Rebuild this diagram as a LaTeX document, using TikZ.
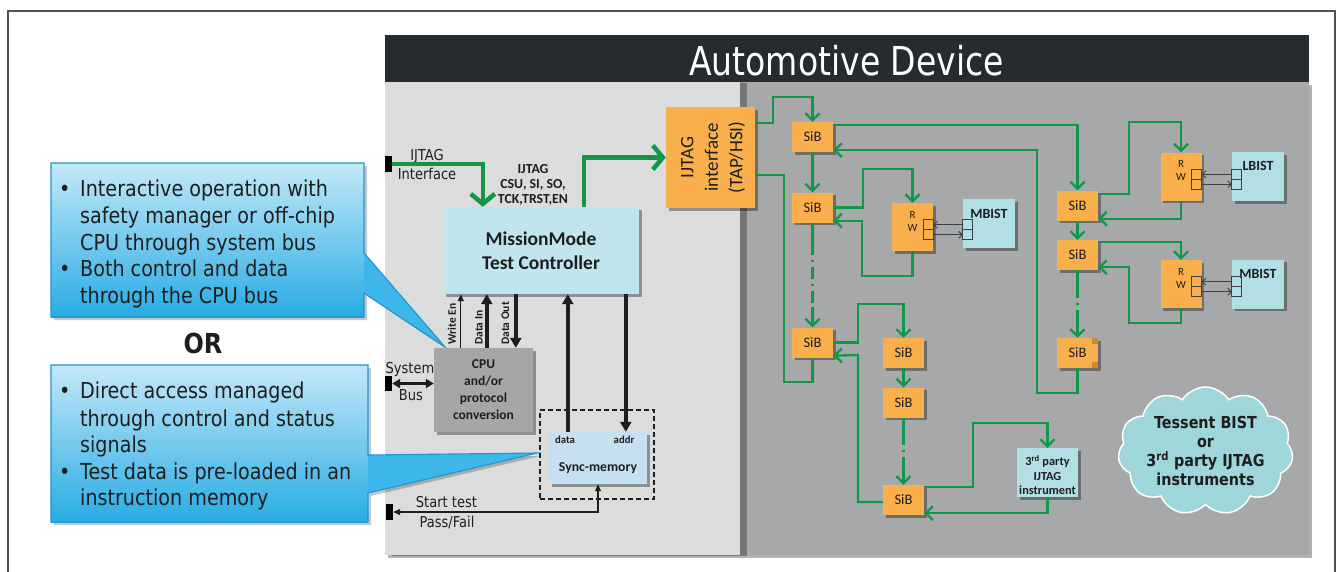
\documentclass[tikz,border=0pt]{standalone}
\usepackage{fontspec}
\setmainfont{Carlito}
\newfontfamily\vfont[FakeStretch=0.87]{DejaVu Sans}
\newfontfamily\hfont[FakeStretch=0.83]{DejaVu Sans}
\usetikzlibrary{arrows.meta,shadows,shapes.symbols,calc}

\definecolor{gline}{RGB}{20,150,72}
\definecolor{orng}{RGB}{248,175,76}
\definecolor{panelL}{RGB}{219,221,221}
\definecolor{panelD}{RGB}{166,168,170}
\definecolor{hdr}{RGB}{40,43,45}
\definecolor{mmfill}{RGB}{193,229,236}
\definecolor{instfill}{RGB}{178,223,227}
\definecolor{cpufill}{RGB}{166,166,166}
\definecolor{syncfill}{RGB}{198,224,242}
\definecolor{calltop}{RGB}{196,232,248}
\definecolor{callbot}{RGB}{40,172,228}
\definecolor{callptr}{RGB}{62,182,234}
\definecolor{callrim}{RGB}{28,150,210}
\definecolor{cloudfill}{RGB}{158,214,218}
\definecolor{txt}{RGB}{30,30,30}
\definecolor{cornr}{RGB}{200,140,45}
\definecolor{framec}{RGB}{80,80,80}
\definecolor{sqc}{RGB}{60,64,66}

\tikzset{
  shadowed/.style={drop shadow={shadow xshift=2.5pt,shadow yshift=-2.5pt,opacity=0.35,fill=black}},
  sibbox/.style={fill=orng, minimum width=41, minimum height=30, inner sep=0,
    font=\fontsize{14.5}{16}\selectfont, text=txt, shadowed},
  rwbox/.style={fill=orng, minimum width=41, minimum height=48, inner sep=0, shadowed},
  instbox/.style={fill=instfill, minimum width=52, minimum height=49, inner sep=0, shadowed},
  portbox/.style={fill=black, minimum width=7, minimum height=16, inner sep=0},
  glink/.style={draw=gline, line width=2.3},
  garrow/.style={glink, -{Straight Barb[length=7,width=14]}},
  gthick/.style={draw=gline, line width=4.5, -{Straight Barb[length=10,width=24]}},
  gdashdot/.style={dash pattern=on 12pt off 5pt on 2pt off 5pt},
  barrow/.style={draw=txt, line width=4, -{Triangle[length=10,width=11]}},
  thinarrow/.style={draw=txt, line width=1.3, -{Triangle[length=7,width=6]}},
  busarrow/.style={draw=txt, line width=2.6, {Triangle[length=8,width=9]}-{Triangle[length=8,width=9]}},
  startarrow/.style={draw=txt, line width=1.3, {Triangle[length=7,width=6]}-{Triangle[length=7,width=6]}},
  sqline/.style={draw=sqc, line width=0.9},
  warrow/.style={draw=sqc, line width=0.9, -{Straight Barb[length=3.5,width=7]}},
  ctext/.style={anchor=base west, inner sep=0, font=\vfont\fontsize{22}{26}\selectfont, text=txt},
  lbl/.style={inner sep=0, font=\vfont\fontsize{15}{18}\selectfont, text=txt},
  smallbold/.style={inner sep=0, text=txt},
}

\begin{document}
\begin{tikzpicture}[x=1pt,y=-1pt]
\useasboundingbox (0,0) rectangle (1340,571);
\fill[white] (0,0) rectangle (1340,571);

% outer frame
\draw[framec, line width=1.4] (8,575) -- (8,11) -- (1335,11) -- (1335,575);

% device panels
\node[fill=panelD, minimum width=924, minimum height=473, inner sep=0, anchor=north west,
  drop shadow={shadow xshift=3pt,shadow yshift=-3pt,opacity=0.3,fill=black}] (darkpanel) at (385,82) {};
\node[fill=panelL, minimum width=355, minimum height=473, inner sep=0, anchor=north west,
  drop shadow={shadow xshift=7pt,shadow yshift=-1pt,opacity=0.3,fill=black}] (lightpanel) at (385,82) {};
\node[fill=hdr, minimum width=924, minimum height=47, inner sep=0, anchor=north west] (header) at (385,35) {};
\node[text=white, inner sep=0, anchor=base, font=\hfont\fontsize{39.8}{40}\selectfont] (title) at (846.5,75) {Automotive Device};

% callout bubbles
\fill[black, opacity=0.22] (54,166) -- (367,166) -- (367,256) -- (448,350) -- (367,296) -- (367,320) -- (54,320) -- cycle;
\fill[callptr] (364,253) -- (445,347) -- (364,293) -- cycle;
\shade[top color=calltop, bottom color=callbot] (51,163) rectangle (364,317);
\draw[callrim, line width=1.1] (51,163) -- (364,163) -- (364,253) -- (445,347) -- (364,293) -- (364,317) -- (51,317) -- cycle;

\fill[black, opacity=0.22] (54,368) -- (371,368) -- (371,458) -- (540,456) -- (371,496) -- (371,525) -- (54,525) -- cycle;
\fill[callptr] (368,455) -- (537,453) -- (368,493) -- cycle;
\shade[top color=calltop, bottom color=callbot] (51,365) rectangle (368,522);
\draw[callrim, line width=1.1] (51,365) -- (368,365) -- (368,455) -- (537,453) -- (368,493) -- (368,522) -- (51,522) -- cycle;

\node[ctext] (b1) at (59,196) {•};
\node[ctext] (t1a) at (80,196) {Interactive operation with};
\node[ctext] (t1b) at (80,223) {safety manager or off-chip};
\node[ctext] (t1c) at (80,250) {CPU through system bus};
\node[ctext] (b2) at (59,276) {•};
\node[ctext] (t2a) at (80,276) {Both control and data};
\node[ctext] (t2b) at (80,303) {through the CPU bus};

\node[inner sep=0, anchor=base, text=txt, font=\vfont\bfseries\fontsize{27.5}{30}\selectfont] (or) at (203,353) {OR};

\node[ctext] (b3) at (59,398) {•};
\node[ctext] (t3a) at (80,398) {Direct access managed};
\node[ctext] (t3b) at (80,426) {through control and status};
\node[ctext] (t3c) at (80,452) {signals};
\node[ctext] (b4) at (59,479) {•};
\node[ctext] (t4a) at (80,479) {Test data is pre-loaded in an};
\node[ctext] (t4b) at (80,505) {instruction memory};

% left-hand blocks
\node[fill=mmfill, minimum width=196, minimum height=87, inner sep=0, shadowed, align=center,
  text=txt, font=\bfseries\fontsize{19.5}{23.5}\selectfont] (mm) at (541,250.5) {MissionMode\\Test Controller};
\node[fill=cpufill, minimum width=99, minimum height=84, inner sep=0, shadowed, align=center,
  text=txt, font=\bfseries\fontsize{13.5}{17}\selectfont] (cpu) at (483.5,390) {CPU\\and/or\\protocol\\conversion};
\node[draw=txt, dash pattern=on 5pt off 3pt, line width=1.3, minimum width=114, minimum height=89, inner sep=0] (memgroup) at (597,454.5) {};
\node[fill=syncfill, minimum width=98, minimum height=52, inner sep=0, shadowed] (sync) at (598,458) {};
\node[smallbold, anchor=base, font=\bfseries\fontsize{10.7}{12}\selectfont] (syncdata) at (565,443.5) {data};
\node[smallbold, anchor=base, font=\bfseries\fontsize{10.7}{12}\selectfont] (syncaddr) at (624,443.5) {addr};
\node[smallbold, anchor=base, font=\bfseries\fontsize{13.7}{15}\selectfont] (syncname) at (598,471.5) {Sync-memory};

\node[fill=orng, minimum width=89, minimum height=101, inner sep=0, shadowed] (jtag) at (710.5,157.5) {};
\node[rotate=90, align=center, inner sep=0, text=txt, font=\fontsize{19}{24.5}\selectfont] (jtagtxt) at (713,157.5) {IJTAG\\interface\\(TAP/HSI)};

% ports and their labels
\node[portbox] (p1) at (388,164) {};
\node[portbox, minimum height=15] (p2) at (388.5,383.5) {};
\node[portbox] (p3) at (389.5,512) {};
\node[lbl, anchor=base] (l1a) at (427,160) {IJTAG};
\node[lbl, anchor=base] (l1b) at (427,179.5) {Interface};
\node[lbl, anchor=base] (l2a) at (410,373) {System};
\node[lbl, anchor=base] (l2b) at (411,400) {Bus};
\node[lbl, anchor=base] (l3a) at (446.5,507) {Start test};
\node[lbl, anchor=base] (l3b) at (447,527) {Pass/Fail};

\node[smallbold, align=center, font=\bfseries\fontsize{13.8}{14.6}\selectfont] (sigs) at (533,185) {IJTAG\\CSU, SI, SO,\\TCK,TRST,EN};

% green IJTAG routing in the controller area
\draw[gthick] (p1.east) -| ($(mm.north west)+(40,0)$);
\draw[gthick] ($(mm.north west)+(141,0)$) |- (jtag.west);

% CPU / controller / memory signals
\coordinate (we) at ($(cpu.north west)+(27,0)$);
\coordinate (di) at ($(cpu.north west)+(53,0)$);
\coordinate (do) at ($(cpu.north west)+(82,0)$);
\coordinate (sd) at ($(sync.north west)+(19,0)$);
\coordinate (sa) at ($(sync.north west)+(77,0)$);
\draw[thinarrow] (we) -- (we |- mm.south);
\draw[barrow] (di) -- (di |- mm.south);
\draw[barrow] (do |- mm.south) -- (do);
\draw[barrow] (sd) -- (sd |- mm.south);
\draw[barrow] (sa |- mm.south) -- (sa);
\node[rotate=90, anchor=west, inner sep=0, text=txt, font=\bfseries\fontsize{11.5}{12}\selectfont] (lwe) at (452,345) {Write En};
\node[rotate=90, anchor=west, inner sep=0, text=txt, font=\bfseries\fontsize{11.5}{12}\selectfont] (ldi) at (479,345) {Data In};
\node[rotate=90, anchor=west, inner sep=0, text=txt, font=\bfseries\fontsize{11.5}{12}\selectfont] (ldo) at (505.5,345) {Data Out};
\draw[busarrow] (p2.east) -- (p2.east -| cpu.west);
\draw[startarrow] (p3.east) -| (sync.south);

% SiB network
\node[sibbox] (sib1) at (812.5,137) {SiB};
\node[sibbox] (sib2) at (812.5,207.5) {SiB};
\node[sibbox] (sib3) at (812.5,342.5) {SiB};
\node[sibbox] (sib4) at (903.5,353) {SiB};
\node[sibbox] (sib5) at (903.5,402.5) {SiB};
\node[sibbox] (sib6) at (903.5,500) {SiB};
\node[sibbox] (sibA) at (1077.5,205.5) {SiB};
\node[sibbox] (sibB) at (1077.5,255) {SiB};
\node[sibbox] (sibC) at (1077.5,353) {SiB};
\fill[cornr] ($(sibC.north east)+(-6,0)$) rectangle ++(6,6);
\fill[cornr] ($(sibC.south east)+(-6,-6)$) rectangle ++(6,6);

\node[rwbox] (rw1) at (912.5,227) {};
\node[rwbox] (rw2) at (1181,176.5) {};
\node[rwbox] (rw3) at (1181,284) {};
\node[instbox] (mb1) at (989,223.5) {};
\node[instbox] (lb) at (1258,176.5) {};
\node[instbox] (mb2) at (1258,284) {};
\node[smallbold, font=\bfseries\fontsize{14}{16}\selectfont] (mb1t) at ($(mb1.north)+(0,15)$) {MBIST};
\node[smallbold, font=\bfseries\fontsize{14}{16}\selectfont] (lbt) at ($(lb.north)+(0,14.5)$) {LBIST};
\node[smallbold, font=\bfseries\fontsize{14}{16}\selectfont] (mb2t) at ($(mb2.north)+(0,14.5)$) {MBIST};

\foreach \r/\m in {rw1/mb1,rw2/lb,rw3/mb2} {
  \node[smallbold, font=\fontsize{11}{12}\selectfont] (\r-R) at ($(\r.north)+(0,12)$) {R};
  \node[smallbold, font=\fontsize{11}{12}\selectfont] (\r-W) at ($(\r.north)+(0,25)$) {W};
  \coordinate (ra) at (\r.north east);
  \coordinate (ma) at (\m.north west |- \r.north);
  \draw[sqline] ($(ra)+(-10,17)$) rectangle ($(ra)+(0,27)$);
  \draw[sqline] ($(ra)+(-10,27)$) rectangle ($(ra)+(0,37)$);
  \draw[sqline] ($(ma)+(0,17)$) rectangle ($(ma)+(10,27)$);
  \draw[sqline] ($(ma)+(0,27)$) rectangle ($(ma)+(10,37)$);
  \draw[warrow] ($(ma)+(0,22)$) -- ($(ra)+(0,22)$);
  \draw[warrow] ($(ra)+(0,32)$) -- ($(ma)+(0,32)$);
}

\node[fill=instfill, minimum width=61, minimum height=49, inner sep=0, shadowed] (third) at (1047.5,472.5) {};
\node[smallbold, align=center, font=\bfseries\fontsize{12.3}{14.5}\selectfont] (thirdt) at (1047.5,475) {3\textsuperscript{rd} party\\IJTAG\\instrument};

% scan path from the IJTAG interface
\draw[garrow] ($(jtag.north east)+(0,16)$) -| (773,97) -| (sib1.north);
\draw[glink] (sib3.south) |- (784,382) |- ($(jtag.north east)+(0,68)$);

% first column
\draw[garrow] (sib1.south) -- (sib2.north);
\draw[glink] (sib2.south) -- ++(0,20) coordinate (c1a);
\draw[glink, gdashdot] (c1a) -- ++(0,64) coordinate (c1b);
\draw[garrow] (c1b) -- (sib3.north);
\draw[garrow] ($(sib1.north east)+(0,3)$) -| (sibA.north);
\draw[garrow] (sibC.south) |- (1037,393) |- ($(sib1.south east)+(0,-2)$);
\draw[garrow] (sib2.east) -- ++(29.5,0) |- ($(rw1.north)+(0,-34)$) -- (rw1.north);
\draw[garrow] (rw1.south) |- (862,276) |- ($(sib2.south east)+(0,-2)$);

% right column
\draw[garrow] ($(sibA.north east)+(0,4)$) -| (1129,122) -| (rw2.north);
\draw[garrow] (rw2.south) |- ($(sibA.south east)+(0,-2)$);
\draw[garrow] (sibA.south) -- (sibB.north);
\draw[garrow] ($(sibB.north east)+(0,2)$) -| (rw3.north);
\draw[garrow] (rw3.south) |- (1129,323) |- ($(sibB.south east)+(0,-3)$);
\draw[glink] (sibB.south) -- ++(0,16) coordinate (c2a);
\draw[glink, gdashdot] (c2a) -- ++(0,33) coordinate (c2b);
\draw[garrow] (c2b) -- (sibC.north);

% lower chain
\draw[garrow] (sib3.east) -| (858,304) -| (sib4.north);
\draw[garrow] ($(sib6.west)+(0,2)$) -| (858,355) -- ($(sib3.south east)+(0,-2)$);
\draw[garrow] (sib4.south) -- (sib5.north);
\draw[glink] (sib5.south) -- ++(0,15) coordinate (c3a);
\draw[glink, gdashdot] (c3a) -- ++(0,34) coordinate (c3b);
\draw[garrow] (c3b) -- (sib6.north);
\draw[garrow] ($(sib6.north east)+(0,2)$) -| (973,423) -| (third.north);
\draw[garrow] (third.south) |- ($(sib6.south east)+(0,-2)$);

% instrument cloud
\node[cloud, cloud puffs=11, cloud puff arc=115, aspect=1.35, fill=cloudfill, draw=white,
  line width=1.5, minimum width=175, minimum height=128, inner sep=0] (cloud) at (1205.5,451) {};
\node[smallbold, align=center, font=\vfont\bfseries\fontsize{16.5}{19}\selectfont] (cloudt) at (1205.5,451)
  {Tessent BIST\\or\\3\textsuperscript{rd} party IJTAG\\instruments};
\end{tikzpicture}
\end{document}
